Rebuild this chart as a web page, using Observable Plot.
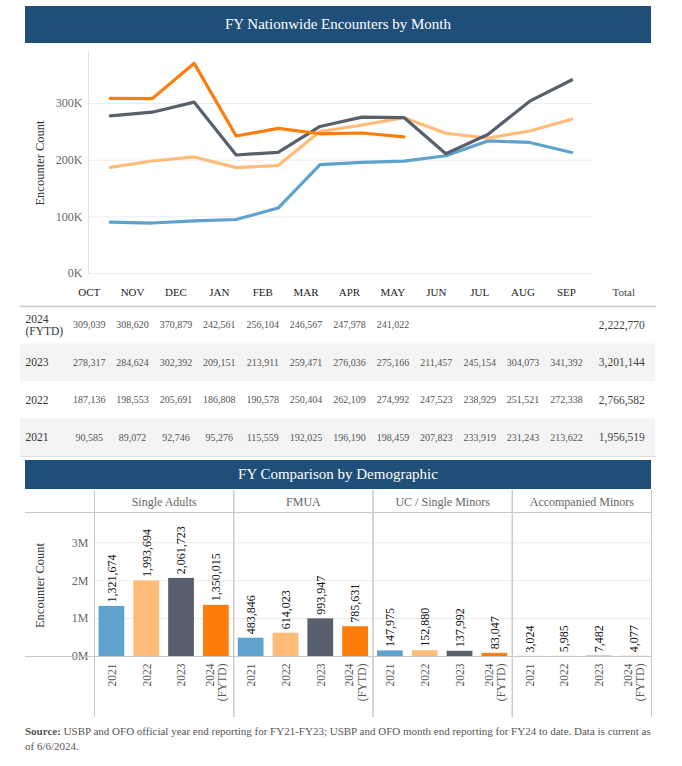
<!DOCTYPE html>
<html>
<head>
<meta charset="utf-8">
<script src="https://cdn.jsdelivr.net/npm/d3@7"></script>
<script src="https://cdn.jsdelivr.net/npm/@observablehq/plot@0.6"></script>
<style>
  body { margin: 0; background: #fff; font-family: "Liberation Serif", "Times New Roman", "DejaVu Serif", serif; }
  #wrap { position: relative; width: 682px; height: 766px; overflow: hidden; }
  .band { position: absolute; left: 25px; width: 626px; background: #1f4e79; color: #fff; text-align: center; font-size: 15px; }
  .abs { position: absolute; }
  .hl { position: absolute; height: 0; border-top: 1px solid #c8c8c8; }
  svg { overflow: visible; }
  svg text, svg tspan { font-family: "Liberation Serif", "Times New Roman", "DejaVu Serif", serif !important; }
</style>
</head>
<body>
<div id="wrap">
  <div class="band" style="top:6px;height:37px;line-height:37px;">FY Nationwide Encounters by Month</div>
  <div id="line" class="abs" style="left:0;top:43px;"></div>
  <div id="table" class="abs" style="left:0;top:280px;"></div>
  <div class="band" style="top:460px;height:29px;line-height:29px;">FY Comparison by Demographic</div>
  <div id="bars" class="abs" style="left:0;top:489px;"></div>
  <div class="hl" style="left:25px;width:69px;top:512px;"></div>
  <div class="hl" style="left:25px;width:69px;top:656px;"></div>
  <div class="abs" style="left:25px;top:724px;width:655px;white-space:nowrap;font-size:11px;line-height:15px;color:#555;"><b>Source:</b> USBP and OFO official year end reporting for FY21-FY23; USBP and OFO month end reporting for FY24 to date. Data is current as<br>of 6/6/2024.</div>
</div>
<script>
// ---------- data ----------
const months = ["OCT","NOV","DEC","JAN","FEB","MAR","APR","MAY","JUN","JUL","AUG","SEP"];
const fy2024 = [309039, 308620, 370879, 242561, 256104, 246567, 247978, 241022];
const fy2023 = [278317, 284624, 302392, 209151, 213911, 259471, 276036, 275166, 211457, 245154, 304073, 341392];
const fy2022 = [187136, 198553, 205691, 186808, 190578, 250404, 262109, 274992, 247523, 238929, 251521, 272338];
const fy2021 = [90585, 89072, 92746, 95276, 115559, 192025, 196190, 198459, 207823, 233919, 231243, 213622];
const totals = [2222770, 3201144, 2766582, 1956519];
const rowLabels = ["2024\n(FYTD)", "2023", "2022", "2021"];
const lineYTicks = [0, 100000, 200000, 300000];

const demographics = ["Single Adults", "FMUA", "UC / Single Minors", "Accompanied Minors"];
const yearLabels = ["2021", "2022", "2023", "2024\n(FYTD)"];
const singleAdults = [1321674, 1993694, 2061723, 1350015];
const fmua = [483846, 614023, 993947, 785631];
const ucMinors = [147975, 152880, 137992, 83047];
const accMinors = [3024, 5985, 7482, 4077];
const barYTicks = [0, 1000000, 2000000, 3000000];

const colors = ["#5fa2ce", "#ffbc79", "#57606c", "#fc7d0b"];
const font = '"Liberation Serif", "Times New Roman", serif';
const fmt = d3.format(",");

// ---------- line chart ----------
const lineSeries = [["2021", fy2021], ["2022", fy2022], ["2023", fy2023], ["2024", fy2024]];
const lineData = lineSeries.flatMap(([year, vals]) => vals.map((v, i) => ({year, month: months[i], value: v})));

const line = Plot.plot({
  width: 682, height: 240,
  marginLeft: 88, marginRight: 89, marginTop: 9, marginBottom: 10,
  style: {fontFamily: font, background: "transparent"},
  x: {type: "point", domain: months, padding: 0.52, round: false, axis: null},
  y: {domain: [0, 390000], axis: null},
  color: {domain: ["2021", "2022", "2023", "2024"], range: colors},
  marks: [
    Plot.gridY(lineYTicks, {stroke: "#ececec", strokeOpacity: 1}),
    Plot.frame({anchor: "left", stroke: "#e2e2e2"}),
    Plot.axisY({ticks: lineYTicks, tickFormat: d => d / 1000 + "K", tickSize: 0, tickPadding: 6, fill: "#666", fontSize: 12, label: null}),
    Plot.text(["Encounter Count"], {frameAnchor: "left", textAnchor: "middle", lineAnchor: "middle", rotate: -90, dx: -49, fontSize: 12.5, fill: "#333"}),
    Plot.line(lineData, {x: "month", y: "value", stroke: "year", z: "year", strokeWidth: 3.2})
  ]
});
document.getElementById("line").append(line);

// ---------- table ----------
const rowValues = [fy2024, fy2023, fy2022, fy2021];
const columns = [...months, "Total"];
const cells = rowLabels.flatMap((r, ri) => rowValues[ri].map((v, i) => ({row: r, col: months[i], value: v})));
const totalCells = rowLabels.map((r, ri) => ({row: r, col: "Total", value: totals[ri]}));

const table = Plot.plot({
  width: 682, height: 180,
  marginLeft: 20, marginRight: 27, marginTop: 26, marginBottom: 4,
  style: {fontFamily: font, background: "transparent"},
  x: {type: "band", domain: columns, range: [67, 631], padding: 0, round: false, axis: null},
  y: {type: "band", domain: rowLabels, padding: 0, round: false, axis: null},
  marks: [
    Plot.cell(rowLabels.filter((d, i) => i % 2 === 1), {y: d => d, fill: "#f4f4f4"}),
    Plot.frame({anchor: "top", stroke: "#c8c8c8", strokeWidth: 1.5}),
    Plot.frame({anchor: "bottom", stroke: "#dddddd"}),
    Plot.text(months, {x: d => d, frameAnchor: "top", lineAnchor: "middle", dy: -14, fontSize: 11, fill: "#222"}),
    Plot.text(["Total"], {x: d => d, frameAnchor: "top", lineAnchor: "middle", dy: -14, dx: 14, fontSize: 11, fill: "#444"}),
    Plot.text(rowLabels, {y: d => d, frameAnchor: "left", textAnchor: "start", lineAnchor: "middle", dx: 5, fontSize: 11.5, lineHeight: 1.0, fill: "#333"}),
    Plot.text(cells, {x: "col", y: "row", text: d => fmt(d.value), fontSize: 10, fill: "#555"}),
    Plot.text(totalCells, {x: "col", y: "row", text: d => fmt(d.value), dx: 12, fontSize: 11.5, fill: "#444"})
  ]
});
document.getElementById("table").append(table);

// ---------- demographic bars ----------
const demoValues = [singleAdults, fmua, ucMinors, accMinors];
const demoData = demographics.flatMap((g, gi) => demoValues[gi].map((v, i) => ({demo: g, year: yearLabels[i], value: v})));
const yMax = 3800000;

const bars = Plot.plot({
  width: 682, height: 230,
  marginLeft: 94, marginRight: 31, marginTop: 1, marginBottom: 3,
  style: {fontFamily: font, background: "transparent"},
  fx: {domain: demographics, padding: 0, round: false, axis: null},
  x: {domain: yearLabels, paddingInner: 0.26, paddingOuter: 0.13, round: false, axis: null},
  y: {domain: [0, yMax], range: [167, 23], axis: null},
  color: {domain: yearLabels, range: colors},
  marks: [
    Plot.gridY(barYTicks.slice(1), {stroke: "#ececec", strokeOpacity: 1}),
    Plot.frame({anchor: "left", stroke: "#c8c8c8"}),
    Plot.frame({anchor: "right", stroke: "#c8c8c8"}),
    Plot.ruleY([0], {stroke: "#c8c8c8"}),
    Plot.ruleY([yMax], {stroke: "#c8c8c8"}),
    Plot.axisY({ticks: barYTicks, tickFormat: d => d / 1e6 + "M", tickSize: 0, tickPadding: 6, fill: "#666", fontSize: 12, label: null}),
    Plot.barY(demoData, {fx: "demo", x: "year", y: "value", fill: "year"}),
    Plot.text(demoData, {fx: "demo", x: "year", y: "value", text: d => fmt(d.value), rotate: -90, textAnchor: "start", lineAnchor: "middle", dy: -4, fontSize: 12, fill: "#111"}),
    Plot.text(demoData, {fx: "demo", x: "year", y: () => 0, text: "year", rotate: -90, textAnchor: "end", lineAnchor: "middle", lineHeight: 1.05, dy: 7, fontSize: 11.5, fill: "#555"}),
    Plot.text(demographics, {fx: d => d, frameAnchor: "top", lineAnchor: "middle", dy: 12, text: d => d, fontSize: 12, fill: "#666"}),
    Plot.text([demographics[0]], {fx: d => d, frameAnchor: "left", textAnchor: "middle", lineAnchor: "middle", rotate: -90, dx: -55, dy: -18, text: () => "Encounter Count", fontSize: 12.5, fill: "#333"})
  ]
});
document.getElementById("bars").append(bars);
</script>
</body>
</html>
